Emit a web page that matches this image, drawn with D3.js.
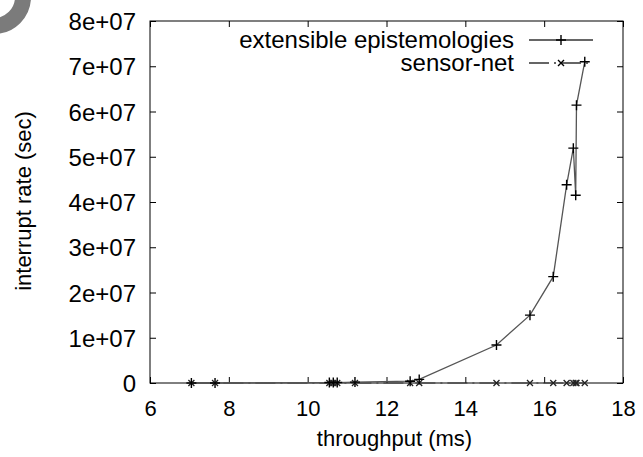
<!DOCTYPE html>
<html>
<head>
<meta charset="utf-8">
<script src="https://cdn.jsdelivr.net/npm/d3@7"></script>
<style>
  html, body { margin: 0; padding: 0; background: #fff; }
  svg { display: block; font-family: "Liberation Sans", Arial, Helvetica, sans-serif; }
</style>
</head>
<body>
<div id="chart"></div>
<script>
// data
const throughput = [7.05, 7.65, 10.55, 10.65, 10.75, 11.2, 12.6, 12.83, 14.79, 15.64, 16.23, 16.57, 16.74, 16.80, 16.82, 17.03];
const extensibleRate = [0, 0, 1e5, 1e5, 1e5, 2e5, 4e5, 8e5, 8.4e6, 1.5e7, 2.35e7, 4.38e7, 5.19e7, 4.15e7, 6.14e7, 7.1e7];
const sensorRate = [0, 0, 0, 0, 0, 0, 0, 0, 0, 0, 0, 0, 0, 0, 0, 0];
const seriesNames = ['extensible epistemologies', 'sensor-net'];
const xTicks = [6, 8, 10, 12, 14, 16, 18];
const yTicks = [0, 1e7, 2e7, 3e7, 4e7, 5e7, 6e7, 7e7, 8e7];

const width = 643, height = 457;
const margin = { top: 21, right: 20, bottom: 74, left: 150 };
const innerWidth = width - margin.left - margin.right;   // 473
const innerHeight = height - margin.top - margin.bottom; // 362

const svg = d3.select('#chart').append('svg')
    .attr('width', width)
    .attr('height', height);

// grey ring in the corner of the scan
svg.append('circle')
    .attr('cx', -6).attr('cy', -3).attr('r', 29)
    .attr('fill', 'none')
    .attr('stroke', '#7b7b7b')
    .attr('stroke-width', 16);

const g = svg.append('g').attr('transform', `translate(${margin.left},${margin.top})`);

const x = d3.scaleLinear().domain([6, 18]).range([0, innerWidth]);
const y = d3.scaleLinear().domain([0, 8e7]).range([innerHeight, 0]);

const fmtY = d => d === 0 ? '0' : `${d / 1e7}e+07`;

const styleAxis = (sel, size) => {
    sel.select('.domain').remove();
    sel.selectAll('line').attr('stroke', '#000').attr('stroke-width', 1);
    sel.selectAll('text').attr('fill', '#000').attr('font-size', size);
};

// bottom axis
g.append('g')
    .attr('transform', `translate(0,${innerHeight})`)
    .call(d3.axisBottom(x).tickValues(xTicks).tickSizeInner(-6).tickSizeOuter(0))
    .call(styleAxis, 22)
    .call(a => a.selectAll('text').attr('y', 33).attr('dy', 0));

// left axis
g.append('g')
    .call(d3.axisLeft(y).tickValues(yTicks).tickFormat(fmtY).tickSizeInner(-6).tickSizeOuter(0))
    .call(styleAxis, 24)
    .call(a => a.selectAll('text').attr('x', -14).attr('dy', '0.36em'));

// mirrored ticks, top and right
g.append('g')
    .call(d3.axisTop(x).tickValues(xTicks).tickFormat('').tickSizeInner(-6).tickSizeOuter(0))
    .call(styleAxis, 22);
g.append('g')
    .attr('transform', `translate(${innerWidth},0)`)
    .call(d3.axisRight(y).tickValues(yTicks).tickFormat('').tickSizeInner(-6).tickSizeOuter(0))
    .call(styleAxis, 22);

// frame
g.append('rect')
    .attr('width', innerWidth).attr('height', innerHeight)
    .attr('fill', 'none').attr('stroke', '#000').attr('stroke-width', 1);

// axis titles
svg.append('text')
    .attr('x', margin.left + innerWidth / 2 + 8)
    .attr('y', 446)
    .attr('text-anchor', 'middle')
    .attr('font-size', 22)
    .text('throughput (ms)');

svg.append('text')
    .attr('transform', `translate(31,201) rotate(-90)`)
    .attr('text-anchor', 'middle')
    .attr('font-size', 22)
    .text('interrupt rate (sec)');

const plusPath = s => `M${-s},0H${s}M0,${-s}V${s}`;
const crossPath = s => `M${-s},${-s}L${s},${s}M${-s},${s}L${s},${-s}`;

const line = d3.line().x(d => x(d[0])).y(d => y(d[1]));

const mainData = throughput.map((t, i) => [t, extensibleRate[i]]);
const sensorData = throughput.map((t, i) => [t, sensorRate[i]]);

// sensor-net (dashed, x markers)
g.append('path')
    .datum(sensorData)
    .attr('d', line)
    .attr('fill', 'none')
    .attr('stroke', '#333')
    .attr('stroke-width', 1.2)
    .attr('stroke-dasharray', '20,5,2,5');
g.selectAll('.mk-x')
    .data(sensorData)
    .join('path')
    .attr('class', 'mk-x')
    .attr('transform', d => `translate(${x(d[0])},${y(d[1])})`)
    .attr('d', crossPath(3))
    .attr('stroke', '#222')
    .attr('stroke-width', 1.3);

// extensible epistemologies (solid, + markers)
g.append('path')
    .datum(mainData)
    .attr('d', line)
    .attr('fill', 'none')
    .attr('stroke', '#555')
    .attr('stroke-width', 1.3);
g.selectAll('.mk-p')
    .data(mainData)
    .join('path')
    .attr('class', 'mk-p')
    .attr('transform', d => `translate(${x(d[0])},${y(d[1])})`)
    .attr('d', plusPath(5))
    .attr('stroke', '#000')
    .attr('stroke-width', 1.4);

// legend
const legend = svg.append('g');
seriesNames.forEach((name, i) => {
    const ly = 40 + i * 23;
    legend.append('text')
        .attr('x', 514).attr('y', ly).attr('dy', '0.35em')
        .attr('text-anchor', 'end')
        .attr('font-size', 24)
        .text(name);
    legend.append('line')
        .attr('x1', 529).attr('x2', 593).attr('y1', ly).attr('y2', ly)
        .attr('stroke', '#333').attr('stroke-width', 1.3)
        .attr('stroke-dasharray', i === 0 ? null : '20,5,2,5');
    legend.append('path')
        .attr('transform', `translate(561,${ly})`)
        .attr('d', i === 0 ? plusPath(5) : crossPath(3))
        .attr('stroke', '#000').attr('stroke-width', 1.4);
});
</script>
</body>
</html>
